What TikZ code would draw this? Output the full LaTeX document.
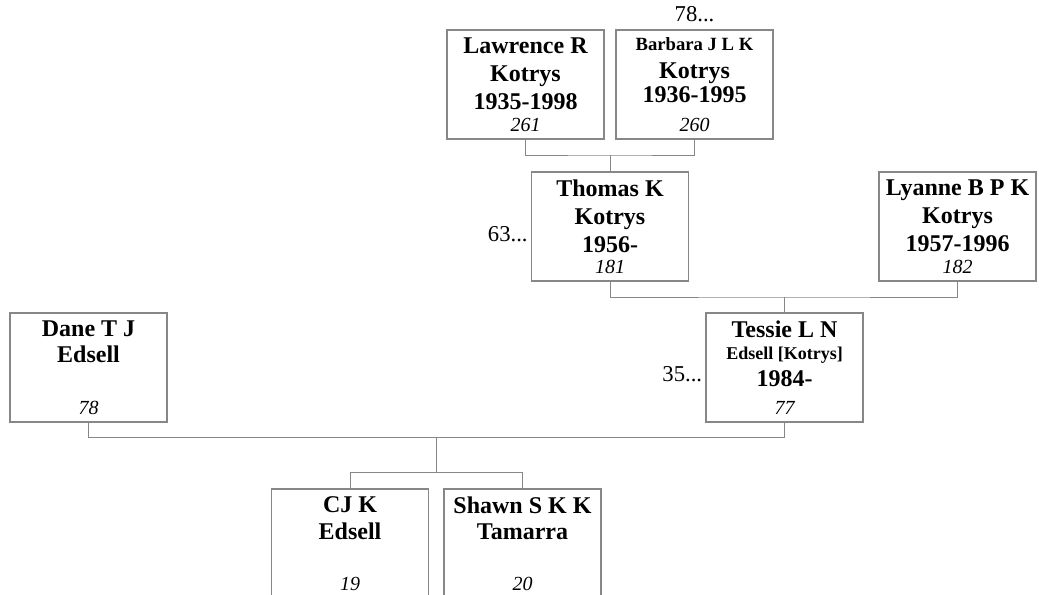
\documentclass[tikz,border=0pt]{standalone}
\usepackage{fontspec}
\setmainfont{Liberation Serif}
\usetikzlibrary{positioning,calc}

\definecolor{linegray}{RGB}{135,135,135}

\tikzset{
  pbox/.style={draw=linegray,line width=0.9pt,minimum width=117.75pt,minimum height=81.75pt,inner sep=0pt},
  pname/.style={align=center,inner sep=0pt,font=\bfseries\fontsize{18}{21}\selectfont},
  pnum/.style={inner sep=0pt,anchor=base,font=\itshape\fontsize{15}{17}\selectfont},
  more/.style={inner sep=0pt,font=\fontsize{17}{19}\selectfont},
  link/.style={draw=linegray,line width=0.75pt}
}

\begin{document}
\begin{tikzpicture}[x=0.75pt,y=-0.75pt]
            \useasboundingbox (0,0) rectangle (1039,594);

            % Grandparents
            \node[pbox] (lawrence) at (525.5,84.5) {};
            \node[pname,below=6pt of lawrence.north] (lawrenceName) {Lawrence R\\Kotrys\\1935-1998};
            \node[pnum,above=6pt of lawrence.south,anchor=base] (lawrenceNum) {261};

            \node[pbox] (barbara) at (694.5,84.5) {};
            \node[pname,below=6pt of barbara.north] (barbaraName) {{\fontsize{14}{16}\selectfont Barbara J L K}\\Kotrys\\[-3pt]1936-1995};
            \node[pnum,above=6pt of barbara.south,anchor=base] (barbaraNum) {260};
            \node[more,above=6pt of barbara.north,anchor=base] (barbaraMore) {78...};

            % Parents
            \node[pbox] (thomas) at (610,226.5) {};
            \node[pname,below=6pt of thomas.north] (thomasName) {Thomas K\\Kotrys\\1956-};
            \node[pnum,above=6pt of thomas.south,anchor=base] (thomasNum) {181};
            \node[more,anchor=base east] (thomasMore) at ($(thomas.north west)+(-3,70)$) {63...};

            \node[pbox] (lyanne) at (957.5,226.5) {};
            \node[pname,below=6pt of lyanne.north] (lyanneName) {Lyanne B P K\\Kotrys\\1957-1996};
            \node[pnum,above=6pt of lyanne.south,anchor=base] (lyanneNum) {182};

            % Couple
            \node[pbox] (dane) at (88.5,367.5) {};
            \node[pname,below=6pt of dane.north] (daneName) {Dane T J\\[-1.5pt]Edsell};
            \node[pnum,above=6pt of dane.south,anchor=base] (daneNum) {78};

            \node[pbox] (tessie) at (784.5,367.5) {};
            \node[pname,below=6pt of tessie.north] (tessieName) {Tessie L N\\[-4pt]{\fontsize{13.5}{15}\selectfont Edsell [Kotrys]}\\[-1pt]1984-};
            \node[pnum,above=6pt of tessie.south,anchor=base] (tessieNum) {77};
            \node[more,anchor=base east] (tessieMore) at ($(tessie.north west)+(-3,69)$) {35...};

            % Children
            \node[pbox] (cj) at (350,543.5) {};
            \node[pname,below=6pt of cj.north] (cjName) {CJ K\\[-1pt]Edsell};
            \node[pnum,above=6pt of cj.south,anchor=base] (cjNum) {19};

            \node[pbox] (shawn) at (522.5,543.5) {};
            \node[pname,below=6pt of shawn.north] (shawnName) {Shawn S K K\\[-1pt]Tamarra};
            \node[pnum,above=6pt of shawn.south,anchor=base] (shawnNum) {20};

            % Junction points
            \coordinate (bar1) at (610,155);
            \coordinate (bar2) at (784.5,297);
            \coordinate (bar3) at (436.5,437);
            \coordinate (bar4) at (436.5,472);

            % Family lines
            \draw[link] (lawrence.south) |- (bar1) -| (barbara.south);
            \draw[link] (bar1) -- (thomas.north);
            \draw[link] (thomas.south) |- (bar2) -| (lyanne.south);
            \draw[link] (bar2) -- (tessie.north);
            \draw[link] (dane.south) |- (bar3) -| (tessie.south);
            \draw[link] (bar3) -- (bar4);
            \draw[link] (cj.north) |- (bar4) -| (shawn.north);

\end{tikzpicture}
\end{document}
